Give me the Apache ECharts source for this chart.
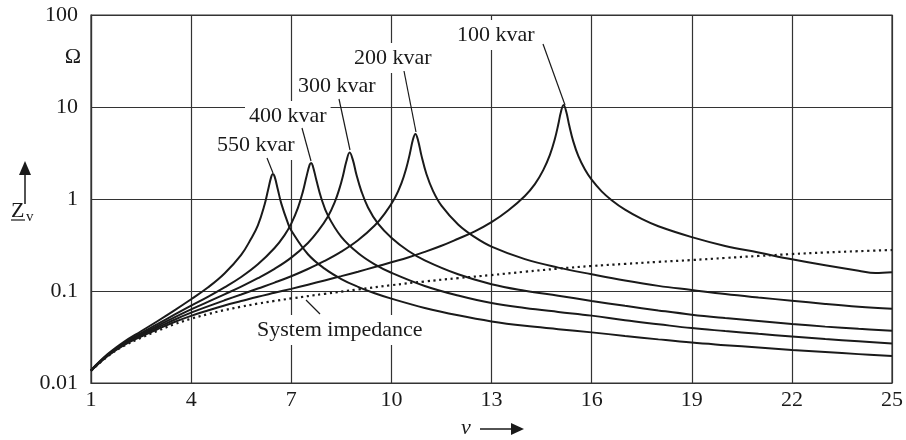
<!DOCTYPE html>
<html><head><meta charset="utf-8">
<script src="https://cdn.jsdelivr.net/npm/echarts@6/dist/echarts.min.js"></script>
<style>html,body{margin:0;padding:0;background:#fff}#c{width:906px;height:440px}</style>
</head><body><div id="c"></div>
<script>
// ---- data ----
const xTicks = [1, 4, 7, 10, 13, 16, 19, 22, 25];
const yTickLabels = ['0.01', '0.1', '1', '10', '100'];

const systemImpedance = [[1,0.0135],[1.5,0.0195],[2,0.0255],[2.5,0.031],[3,0.037],[3.5,0.0435],[4,0.050],[4.5,0.056],[5,0.062],[5.5,0.0675],[6,0.073],[6.5,0.078],[7,0.083],[8,0.0931],[9,0.104],[10,0.1156],[11,0.127],[12,0.138],[13,0.149],[14,0.162],[15,0.175],[16,0.187],[17,0.197],[18,0.2075],[19,0.217],[20,0.2286],[21,0.2404],[22,0.252],[23,0.262],[24,0.271],[25,0.279]];

const cap550 = [[1,0.0138],[1.5,0.0206],[2,0.0282],[2.5,0.0365],[3,0.0472],[3.5,0.0616],[4,0.0813],[4.5,0.109],[5,0.155],[5.5,0.247],[5.8,0.372],[6,0.517],[6.2,0.867],[6.3,1.23],[6.4,1.74],[6.45,1.87],[6.5,1.76],[6.6,1.26],[6.7,0.897],[6.9,0.546],[7,0.454],[7.5,0.251],[8,0.175],[8.5,0.135],[9,0.111],[9.5,0.0945],[10,0.0826],[11,0.0655],[12,0.0544],[13,0.0467],[14,0.0418],[15,0.0385],[16,0.0355],[17,0.0325],[18,0.0298],[19,0.0275],[20,0.0258],[21,0.0243],[22,0.0229],[23,0.0217],[24,0.0206],[25,0.0196]];

const cap400 = [[1,0.0137],[1.5,0.0203],[2,0.0274],[2.5,0.0348],[3,0.0438],[3.5,0.0553],[4,0.0693],[4.5,0.0864],[5,0.1095],[5.5,0.142],[6,0.195],[6.5,0.293],[6.8,0.405],[7,0.54],[7.2,0.80],[7.35,1.21],[7.45,1.71],[7.55,2.35],[7.6,2.46],[7.65,2.26],[7.75,1.62],[7.9,1.02],[8.1,0.66],[8.5,0.388],[9,0.259],[9.5,0.195],[10,0.158],[11,0.1135],[12,0.0893],[13,0.0739],[14,0.0653],[15,0.0592],[16,0.054],[17,0.048],[18,0.0435],[19,0.0395],[20,0.0367],[21,0.0342],[22,0.032],[23,0.0301],[24,0.0284],[25,0.0268]];

const cap300 = [[1,0.0137],[1.5,0.0201],[2,0.0269],[2.5,0.0338],[3,0.0419],[3.5,0.0518],[4,0.0632],[4.5,0.0761],[5,0.092],[5.5,0.1116],[6,0.1377],[6.5,0.174],[7,0.2304],[7.5,0.333],[7.8,0.447],[8.1,0.646],[8.3,0.918],[8.45,1.32],[8.55,1.79],[8.65,2.56],[8.75,3.2],[8.85,2.63],[8.95,1.86],[9.1,1.22],[9.3,0.81],[9.6,0.54],[10,0.38],[10.5,0.274],[11,0.2155],[12,0.152],[13,0.1186],[14,0.1007],[15,0.0888],[16,0.078],[17,0.069],[18,0.0615],[19,0.0553],[20,0.0508],[21,0.0471],[22,0.0438],[23,0.041],[24,0.0388],[25,0.037]];

const cap200 = [[1,0.0136],[1.5,0.0199],[2,0.0264],[2.5,0.0328],[3,0.0401],[3.5,0.0487],[4,0.0581],[4.5,0.068],[5,0.0792],[5.5,0.0916],[6,0.1063],[6.5,0.1234],[7,0.1447],[7.5,0.1734],[8,0.2122],[8.5,0.268],[9,0.356],[9.5,0.515],[9.8,0.695],[10.1,1.02],[10.3,1.48],[10.45,2.19],[10.55,3.07],[10.65,4.48],[10.72,5.1],[10.8,4.33],[10.9,2.98],[11.05,1.87],[11.25,1.22],[11.5,0.847],[12,0.529],[12.5,0.385],[13,0.304],[14,0.222],[15,0.1795],[16,0.152],[17,0.130],[18,0.1137],[19,0.1025],[20,0.0925],[21,0.0849],[22,0.0785],[23,0.0724],[24,0.0675],[25,0.064]];

const cap100 = [[1,0.0136],[1.5,0.0197],[2,0.026],[2.5,0.0319],[3,0.0385],[3.5,0.046],[4,0.0537],[4.5,0.0614],[5,0.0696],[5.5,0.0777],[6,0.0866],[6.5,0.0956],[7,0.1055],[7.5,0.1172],[8,0.1303],[8.5,0.1451],[9,0.1622],[9.5,0.182],[10,0.2054],[10.5,0.2316],[11,0.266],[11.5,0.31],[12,0.37],[12.5,0.445],[13,0.56],[13.5,0.75],[14,1.08],[14.3,1.45],[14.55,2.06],[14.75,3.02],[14.9,4.52],[15.0,6.44],[15.08,8.83],[15.16,10.5],[15.24,8.88],[15.33,6.28],[15.45,4.23],[15.6,2.94],[15.8,2.09],[16,1.62],[16.3,1.21],[16.6,0.97],[17,0.765],[17.5,0.607],[18,0.505],[19,0.385],[20,0.309],[21,0.262],[22,0.221],[23,0.19],[24,0.166],[24.5,0.157],[25,0.16]];

const seriesNames = ['550 kvar', '400 kvar', '300 kvar', '200 kvar', '100 kvar'];
const seriesData = [cap550, cap400, cap300, cap200, cap100];

// ---- chart ----
const FONT_FAMILY = '"Liberation Serif", "Times New Roman", serif';
const INK = '#1a1a1a';
const GRIDC = '#333';
const chart = echarts.init(document.getElementById('c'), null, { renderer: 'canvas' });

function label(text, x, y) {
  return { type: 'text', x: x, y: y, z: 100,
    style: { text: text, font: '22px ' + FONT_FAMILY, fill: INK, align: 'left', verticalAlign: 'middle',
      backgroundColor: '#fff', padding: [4, 4] } };
}
function seg(x1, y1, x2, y2, w) {
  return { type: 'line', z: 101, shape: { x1: x1, y1: y1, x2: x2, y2: y2 }, style: { stroke: INK, lineWidth: w || 1.2 } };
}

const series = seriesData.map((d, i) => ({
  name: seriesNames[i], type: 'line', data: d, showSymbol: false, smooth: 0.4,
  lineStyle: { color: INK, width: 2 }, z: 5, animation: false
}));
series.push({
  name: 'System impedance', type: 'line', data: systemImpedance, showSymbol: false, smooth: 0.4,
  lineStyle: { color: INK, width: 2.2, type: [2.2, 3.6], cap: 'butt' }, z: 4, animation: false
});

chart.setOption({
  animation: false,
  backgroundColor: '#fff',
  grid: { left: 91, right: 13, top: 15, bottom: 57, show: true, borderColor: GRIDC, borderWidth: 1.2 },
  xAxis: {
    type: 'value', min: xTicks[0], max: xTicks[xTicks.length - 1], interval: 3,
    axisLine: { show: true, lineStyle: { color: GRIDC, width: 1.2 } },
    axisTick: { show: false },
    splitLine: { show: true, lineStyle: { color: GRIDC, width: 1.2 } },
    axisLabel: { color: INK, fontFamily: FONT_FAMILY, fontSize: 22, margin: 6 }
  },
  yAxis: {
    type: 'log', logBase: 10, min: 0.01, max: 100,
    axisLine: { show: true, lineStyle: { color: GRIDC, width: 1.2 } },
    axisTick: { show: false },
    splitLine: { show: true, lineStyle: { color: GRIDC, width: 1.2 } },
    axisLabel: { color: INK, fontFamily: FONT_FAMILY, fontSize: 22, margin: 13,
      formatter: v => yTickLabels[Math.round(Math.log10(v)) + 2] }
  },
  series: series,
  graphic: [
    label('550 kvar', 213, 145),
    label('400 kvar', 245, 116),
    label('300 kvar', 294, 86),
    label('200 kvar', 350, 58),
    label('100 kvar', 453, 35),
    label('System impedance', 253, 330),
    seg(267, 158, 273, 173),
    seg(302, 128, 311, 161),
    seg(339, 99, 350, 150),
    seg(404, 71, 416, 132),
    seg(543, 44, 565, 105),
    seg(306, 300, 320, 314),
    { type: 'text', x: 73, y: 57, style: { text: 'Ω', font: '22px ' + FONT_FAMILY, fill: INK, align: 'center', verticalAlign: 'middle' } },
    // Z_v with upward arrow
    seg(25, 204, 25, 172, 1.5),
    { type: 'polygon', shape: { points: [[19, 175], [31, 175], [25, 161]] }, style: { fill: INK } },
    { type: 'text', x: 11, y: 211, style: { text: 'Z', font: '22px ' + FONT_FAMILY, fill: INK, align: 'left', verticalAlign: 'middle' } },
    seg(11, 220, 25, 220, 1.2),
    { type: 'text', x: 26, y: 217, style: { text: 'v', font: '15px ' + FONT_FAMILY, fill: INK, align: 'left', verticalAlign: 'middle' } },
    // nu with right arrow
    { type: 'text', x: 466, y: 428, style: { text: 'ν', font: 'italic 22px ' + FONT_FAMILY, fill: INK, align: 'center', verticalAlign: 'middle' } },
    seg(480, 429, 514, 429, 1.5),
    { type: 'polygon', shape: { points: [[511, 423], [511, 435], [524, 429]] }, style: { fill: INK } }
  ]
});
</script>
</body></html>
